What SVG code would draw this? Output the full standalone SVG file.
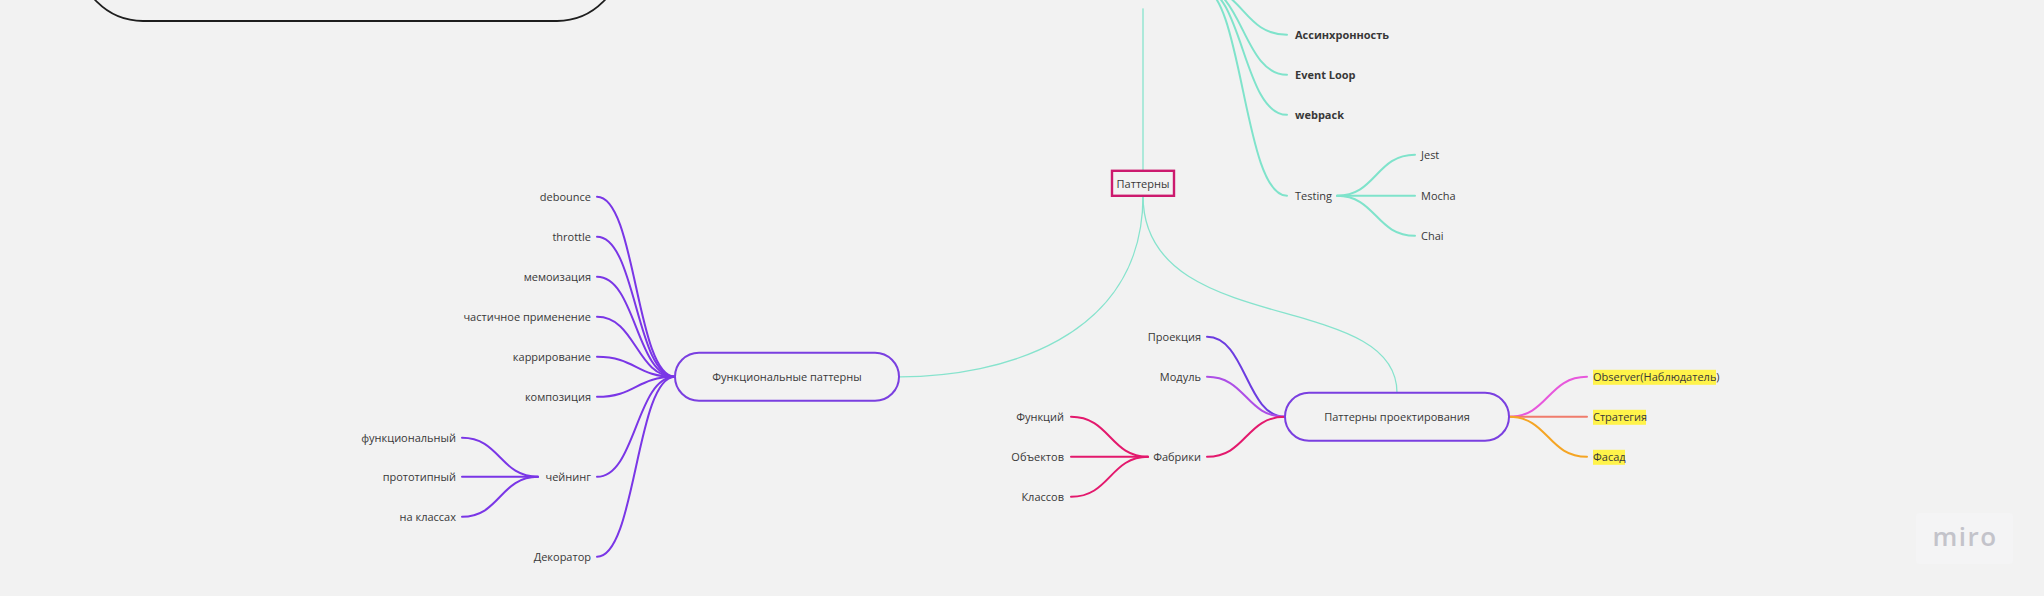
<svg xmlns="http://www.w3.org/2000/svg" width="2044" height="596" viewBox="0 0 2044 596">
<style>
.t{font-family:"Open Sans","Liberation Sans",sans-serif;font-size:11px;fill:#383838;dominant-baseline:central}
.e{text-anchor:end}
.m{text-anchor:middle}
.b{font-weight:700}
.c{fill:none;stroke-linecap:round}
.teal{stroke:#7fe3cb;stroke-width:2}
.tealthin{stroke:#86e3cd;stroke-width:1.3}
.vio{stroke:#7a36e6;stroke-width:2}
.node{fill:#f2f2f2;stroke:#7a3fe0;stroke-width:2}
.hl{fill:#fff34a}
</style>
<rect x="0" y="0" width="2044" height="596" fill="#f2f2f2"/>

<g id="top-frame">
<rect x="78" y="-300" width="544" height="321" rx="65" ry="65" fill="none" stroke="#1e1e1e" stroke-width="1.8"/>
</g>

<g transform="translate(0,-1.2)">
<g id="connectors">
<path class="c teal" d="M1200,-12 C1243,-12 1243,36 1287,36"/>
<path class="c teal" d="M1200,-12 C1243,-12 1243,76 1287,76"/>
<path class="c teal" d="M1200,-12 C1243,-12 1243,116 1287,116"/>
<path class="c teal" d="M1200,-12 C1243,-12 1243,197 1287,197"/>
<path class="c teal" d="M1337,197 C1376,197 1376,156 1415,156"/>
<path class="c teal" d="M1337,197 L1415,197"/>
<path class="c teal" d="M1337,197 C1376,197 1376,237 1415,237"/>
<path class="c tealthin" d="M1143,10 L1143,171"/>
<path class="c tealthin" d="M1143,197 C1143,340 1000,378 900,378"/>
<path class="c tealthin" d="M1143,197 C1143,340 1397,290 1397,394"/>
<path class="c vio" d="M597,198 C636,198 636,378 675,378"/>
<path class="c vio" d="M597,238 C636,238 636,378 675,378"/>
<path class="c vio" d="M597,278 C636,278 636,378 675,378"/>
<path class="c vio" d="M597,318 C636,318 636,378 675,378"/>
<path class="c vio" d="M597,358 C636,358 636,378 675,378"/>
<path class="c vio" d="M597,398 C636,398 636,378 675,378"/>
<path class="c vio" d="M597,478 C636,478 636,378 675,378"/>
<path class="c vio" d="M597,558 C636,558 636,378 675,378"/>
<path class="c vio" d="M462,439 C500,439 500,478 538,478"/>
<path class="c vio" d="M462,478 L538,478"/>
<path class="c vio" d="M462,518 C500,518 500,478 538,478"/>
<path class="c" stroke="#6c3ce0" stroke-width="2" d="M1207,338 C1246,338 1246,418 1285,418"/>
<path class="c" stroke="#ad4fe6" stroke-width="2" d="M1207,378 C1246,378 1246,418 1285,418"/>
<path class="c" stroke="#e3196d" stroke-width="2" d="M1207,458 C1246,458 1246,418 1285,418"/>
<path class="c" stroke="#e3196d" stroke-width="2" d="M1071,418 C1110,418 1110,458 1148,458"/>
<path class="c" stroke="#e3196d" stroke-width="2" d="M1071,458 L1148,458"/>
<path class="c" stroke="#e3196d" stroke-width="2" d="M1071,498 C1110,498 1110,458 1148,458"/>
<path class="c" stroke="#e758dc" stroke-width="2" d="M1509,418 C1548,418 1548,378 1587,378"/>
<path class="c" stroke="#f07c6c" stroke-width="2" d="M1509,418 L1587,418"/>
<path class="c" stroke="#f5a524" stroke-width="2" d="M1509,418 C1548,418 1548,458 1587,458"/>
</g>

<g id="node-async"><text class="t b" x="1295" y="36">Ассинхронность</text></g>
<g id="node-eventloop"><text class="t b" x="1295" y="76">Event Loop</text></g>
<g id="node-webpack"><text class="t b" x="1295" y="116">webpack</text></g>
<g id="node-testing"><text class="t" x="1295" y="197">Testing</text></g>
<g id="node-jest"><text class="t" x="1421" y="156">Jest</text></g>
<g id="node-mocha"><text class="t" x="1421" y="197">Mocha</text></g>
<g id="node-chai"><text class="t" x="1421" y="237">Chai</text></g>

<g id="node-patterns">
<rect x="1112" y="172" width="62" height="25" fill="#f2f2f2" stroke="#cc1a6e" stroke-width="2.4"/>
<text class="t m" x="1143" y="184.5">Паттерны</text>
</g>

<g id="node-func">
<rect class="node" x="675" y="354" width="224" height="48" rx="24" ry="24"/>
<text class="t m" x="787" y="378">Функциональные паттерны</text>
</g>
<g id="node-debounce"><text class="t e" x="591" y="198">debounce</text></g>
<g id="node-throttle"><text class="t e" x="591" y="238">throttle</text></g>
<g id="node-memo"><text class="t e" x="591" y="278">мемоизация</text></g>
<g id="node-partial"><text class="t e" x="591" y="318">частичное применение</text></g>
<g id="node-curry"><text class="t e" x="591" y="358">каррирование</text></g>
<g id="node-compose"><text class="t e" x="591" y="398">композиция</text></g>
<g id="node-chain"><text class="t e" x="591" y="478">чейнинг</text></g>
<g id="node-decorator"><text class="t e" x="591" y="558">Декоратор</text></g>
<g id="node-chain-func"><text class="t e" x="456" y="439">функциональный</text></g>
<g id="node-chain-proto"><text class="t e" x="456" y="478">прототипный</text></g>
<g id="node-chain-class"><text class="t e" x="456" y="518">на классах</text></g>

<g id="node-design">
<rect class="node" x="1285" y="394" width="224" height="48" rx="24" ry="24"/>
<text class="t m" x="1397" y="418">Паттерны проектирования</text>
</g>
<g id="node-projection"><text class="t e" x="1201" y="338">Проекция</text></g>
<g id="node-module"><text class="t e" x="1201" y="378">Модуль</text></g>
<g id="node-factory"><text class="t e" x="1201" y="458">Фабрики</text></g>
<g id="node-f-func"><text class="t e" x="1064" y="418">Функций</text></g>
<g id="node-f-obj"><text class="t e" x="1064" y="458">Объектов</text></g>
<g id="node-f-class"><text class="t e" x="1064" y="498">Классов</text></g>

<g id="node-observer">
<rect class="hl" x="1593" y="371" width="123" height="15"/>
<text class="t" x="1593" y="378">Observer(Наблюдатель)</text>
</g>
<g id="node-strategy">
<rect class="hl" x="1593" y="411" width="53" height="15"/>
<text class="t" x="1593" y="418">Стратегия</text>
</g>
<g id="node-facade">
<rect class="hl" x="1593" y="451" width="32" height="15"/>
<text class="t" x="1593" y="458">Фасад</text>
</g>
</g>

<g id="watermark">
<rect x="1916" y="513" width="97" height="51" rx="4" fill="#f4f4f5"/>
<text x="1965" y="546" text-anchor="middle" font-family="'Open Sans','Liberation Sans',sans-serif" font-weight="600" font-size="26" letter-spacing="1.5" fill="#c3c3ca">miro</text>
</g>
</svg>
